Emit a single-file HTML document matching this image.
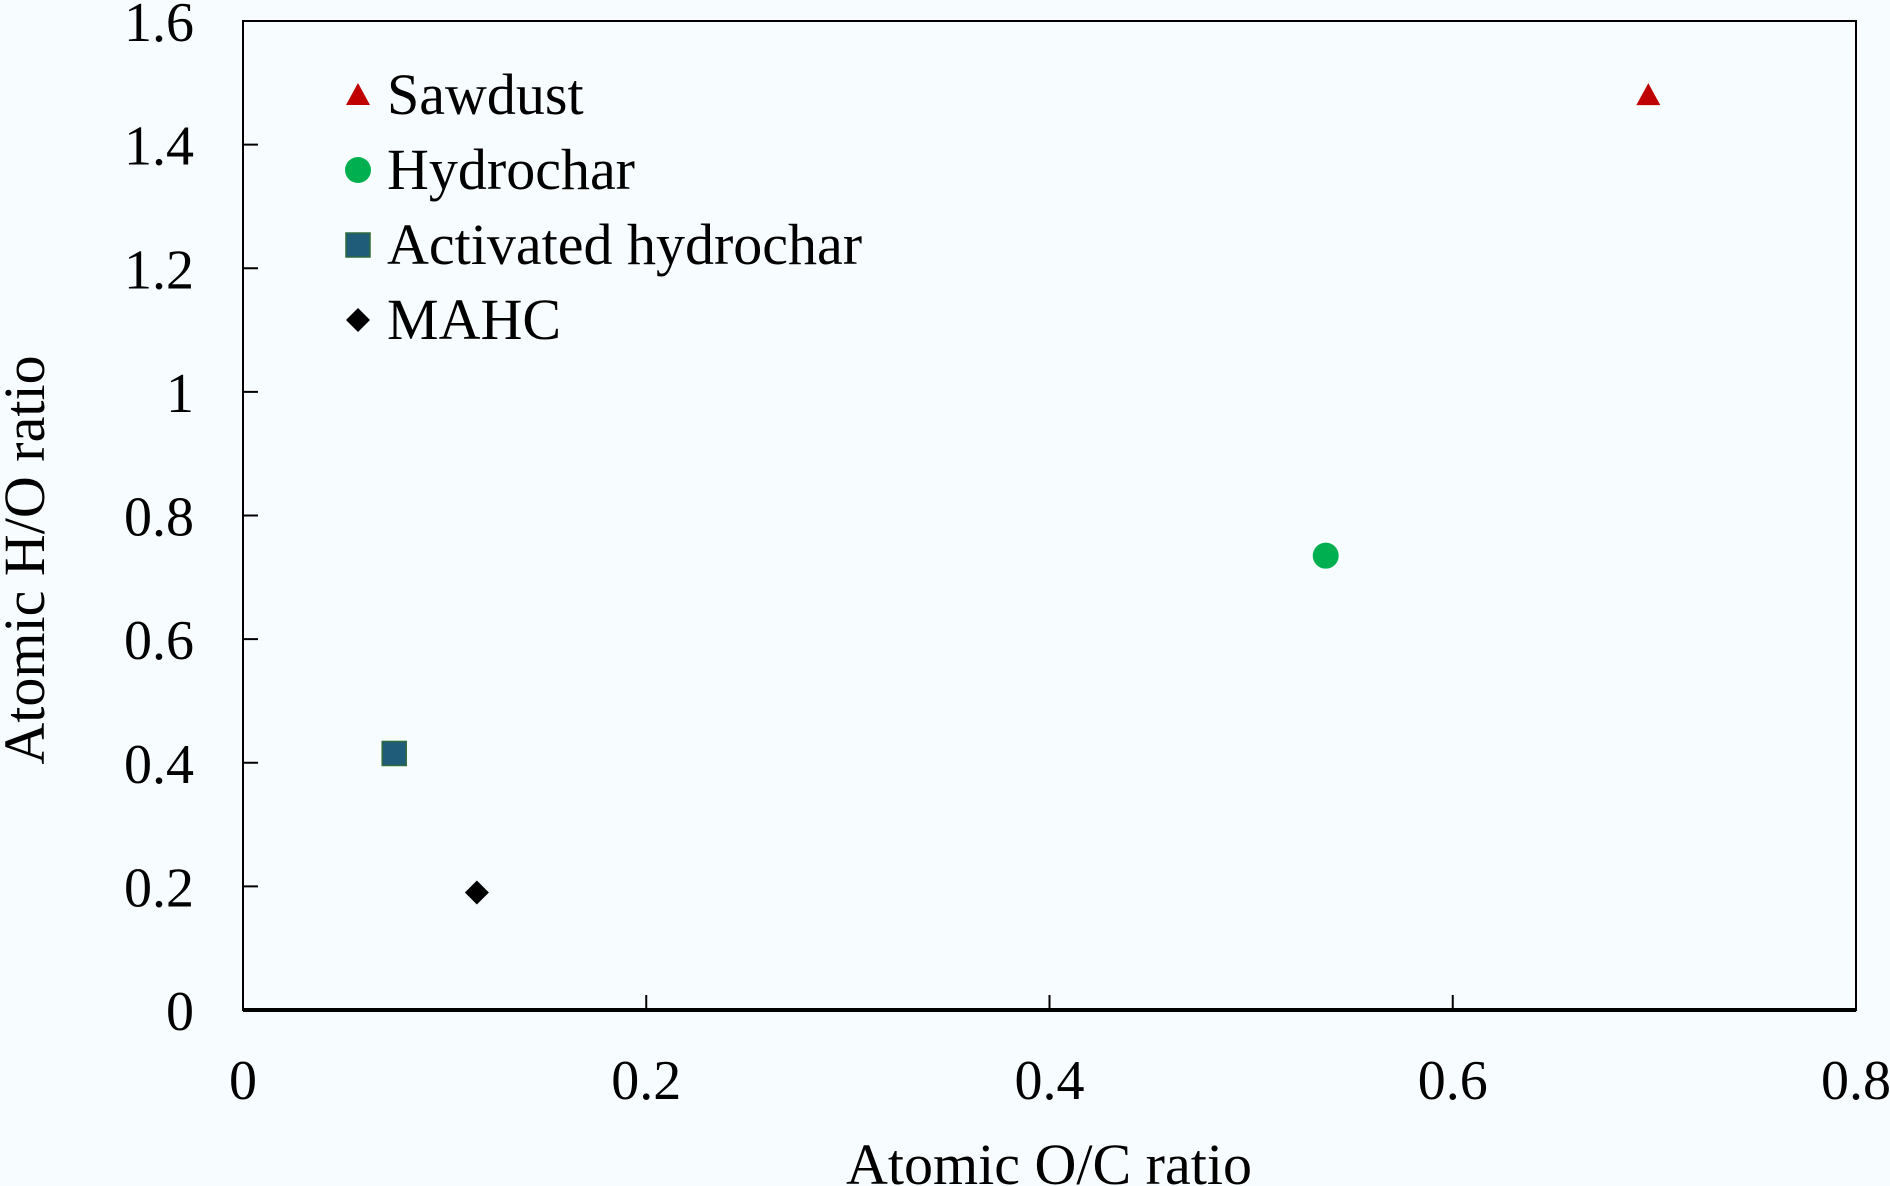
<!DOCTYPE html>
<html><head><meta charset="utf-8"><style>
html,body{margin:0;padding:0;background:#f7fdfe;}
svg{display:block;font-family:"Liberation Serif",serif;}
</style></head><body>
<svg id="chart" width="1890" height="1186" viewBox="0 0 1890 1186">
<rect x="0" y="0" width="1890" height="1186" fill="#f7fdfe"/>
<g id="axes"></g><g id="marks"></g><g id="legend"></g>
<text x="1049" y="1184" font-size="58" text-anchor="middle">Atomic O/C ratio</text>
<text transform="translate(44,560) rotate(-90)" font-size="58" text-anchor="middle">Atomic H/O ratio</text>
</svg>
<script>
const seriesNames = ["Sawdust","Hydrochar","Activated hydrochar","MAHC"];
const xValues = [0.697, 0.537, 0.075, 0.116];
const yValues = [1.48, 0.735, 0.415, 0.19];
const xTicks = [0,0.2,0.4,0.6,0.8];
const xTickLabels = ["0","0.2","0.4","0.6","0.8"];
const yTicks = [0,0.2,0.4,0.6,0.8,1,1.2,1.4,1.6];
const yTickLabels = ["0","0.2","0.4","0.6","0.8","1","1.2","1.4","1.6"];

const NS="http://www.w3.org/2000/svg";
const L=243,R=1856,T=21,B=1010;
const xs=v=>L+(v-0)/(0.8-0)*(R-L);
const ys=v=>B-(v-0)/(1.6-0)*(B-T);
function mk(tag,attrs,parent){const e=document.createElementNS(NS,tag);for(const k in attrs)e.setAttribute(k,attrs[k]);parent.appendChild(e);return e;}
const axes=document.getElementById('axes'),marks=document.getElementById('marks'),legend=document.getElementById('legend');
let e=mk('rect',{x:L,y:T,width:R-L,height:B-T,fill:'none',stroke:'#000','stroke-width':2},axes);


e=mk('line',{x1:L,y1:B,x2:R,y2:B,stroke:'#000','stroke-width':4},axes);


xTicks.forEach((v,i)=>{
  const t=mk('line',{x1:xs(v),y1:B,x2:xs(v),y2:B-15,stroke:'#000','stroke-width':2},axes);
  
  
  const tx=mk('text',{x:xs(v),y:1099,'font-size':56,'text-anchor':'middle'},axes);
  tx.textContent=xTickLabels[i];
  
  
});
yTicks.forEach((v,i)=>{
  const t=mk('line',{x1:L,y1:ys(v),x2:L+15,y2:ys(v),stroke:'#000','stroke-width':2},axes);
  
  
  const tx=mk('text',{x:194,y:ys(v)+20,'font-size':56,'text-anchor':'end'},axes);
  tx.textContent=yTickLabels[i];
  
  
});
function marker(i,cx,cy,parent){
  let m;
  if(i===0) m=mk('polygon',{points:`${cx},${cy-12} ${cx+12},${cy+10} ${cx-12},${cy+10}`,fill:'#c00000'},parent);
  else if(i===1) m=mk('circle',{cx:cx,cy:cy,r:13,fill:'#00b050'},parent);
  else if(i===2) m=mk('rect',{x:cx-12,y:cy-12,width:24,height:24,fill:'#1f5c7a',stroke:'#2d6b3c','stroke-width':1.5},parent);
  else m=mk('polygon',{points:`${cx},${cy-12} ${cx+12},${cy} ${cx},${cy+12} ${cx-12},${cy}`,fill:'#000'},parent);
  return m;
}
seriesNames.forEach((n,i)=>{
  const m=marker(i,xs(xValues[i]),ys(yValues[i]),marks);
  
  
  const ly=95+i*75;
  const lm=marker(i,358,ly,legend);
  
  
  const lt=mk('text',{x:387,y:ly+19,'font-size':58},legend);
  lt.textContent=n;
  
  
});
</script>
</body></html>
